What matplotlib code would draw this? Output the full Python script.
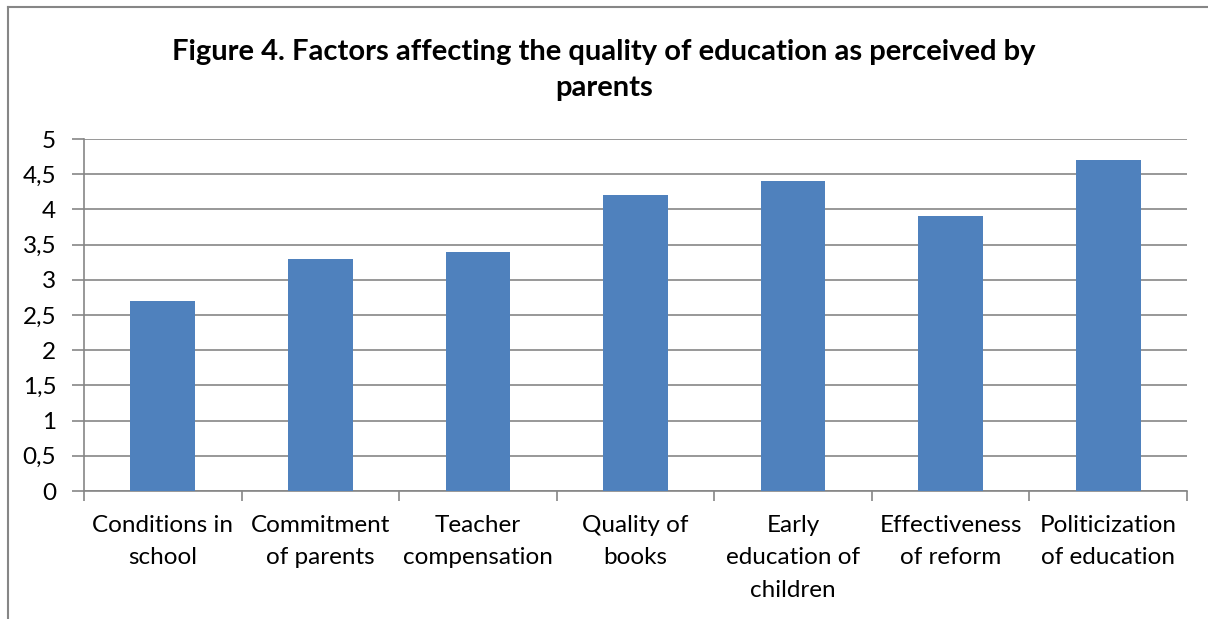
import matplotlib.pyplot as plt
from matplotlib.lines import Line2D
from matplotlib.ticker import FuncFormatter, MultipleLocator

categories = [
    "Conditions in\nschool",
    "Commitment\nof parents",
    "Teacher\ncompensation",
    "Quality of\nbooks",
    "Early\neducation of\nchildren",
    "Effectiveness\nof reform",
    "Politicization\nof education",
]
scores = [2.7, 3.3, 3.4, 4.2, 4.4, 3.9, 4.7]

plt.rcParams['font.family'] = ['Lato', 'DejaVu Sans']
W, H = 1208, 619
grey = '#868686'

fig = plt.figure(figsize=(W / 100, H / 100), dpi=100)
ax = fig.add_axes([84 / W, 1 - 491 / H, (1187 - 84) / W, (491 - 139) / H])

x = range(len(scores))
ax.bar(x, scores, width=0.41, color='#4F81BD', zorder=3)

ax.set_xlim(-0.5, len(scores) - 0.5)
ax.set_ylim(0, 5)
ax.yaxis.set_major_locator(MultipleLocator(0.5))
ax.yaxis.set_major_formatter(FuncFormatter(lambda v, _: f"{v:g}".replace('.', ',')))
ax.grid(axis='y', color=grey, linewidth=1.2, zorder=0)

# category labels sit between the boundary ticks
ax.set_xticks(list(x))
ax.set_xticklabels(categories, fontsize=17.5, linespacing=1.68, va='top')
ax.tick_params(axis='x', length=0, pad=17)
ax.set_xticks([i - 0.5 for i in range(len(scores) + 1)], minor=True)
ax.tick_params(axis='x', which='minor', length=7, width=1.2, color=grey, direction='out')
ax.tick_params(axis='y', length=9, width=1.2, color=grey, labelsize=17.5, pad=11)

for side in ['top', 'right']:
    ax.spines[side].set_visible(False)
for side in ['left', 'bottom']:
    ax.spines[side].set_color(grey)
    ax.spines[side].set_linewidth(1.2)

fig.text(0.5, 1 - 70 / H, "Figure 4. Factors affecting the quality of education as perceived by\nparents",
         ha='center', va='center', fontsize=21, fontweight='bold', linespacing=1.5)

# chart frame (top and left edges)
fig.add_artist(Line2D([8 / W, 1], [1 - 7 / H, 1 - 7 / H], color=grey, linewidth=1.5))
fig.add_artist(Line2D([8 / W, 8 / W], [0, 1 - 7 / H], color=grey, linewidth=1.5))

fig.savefig('out.png', dpi=100)
